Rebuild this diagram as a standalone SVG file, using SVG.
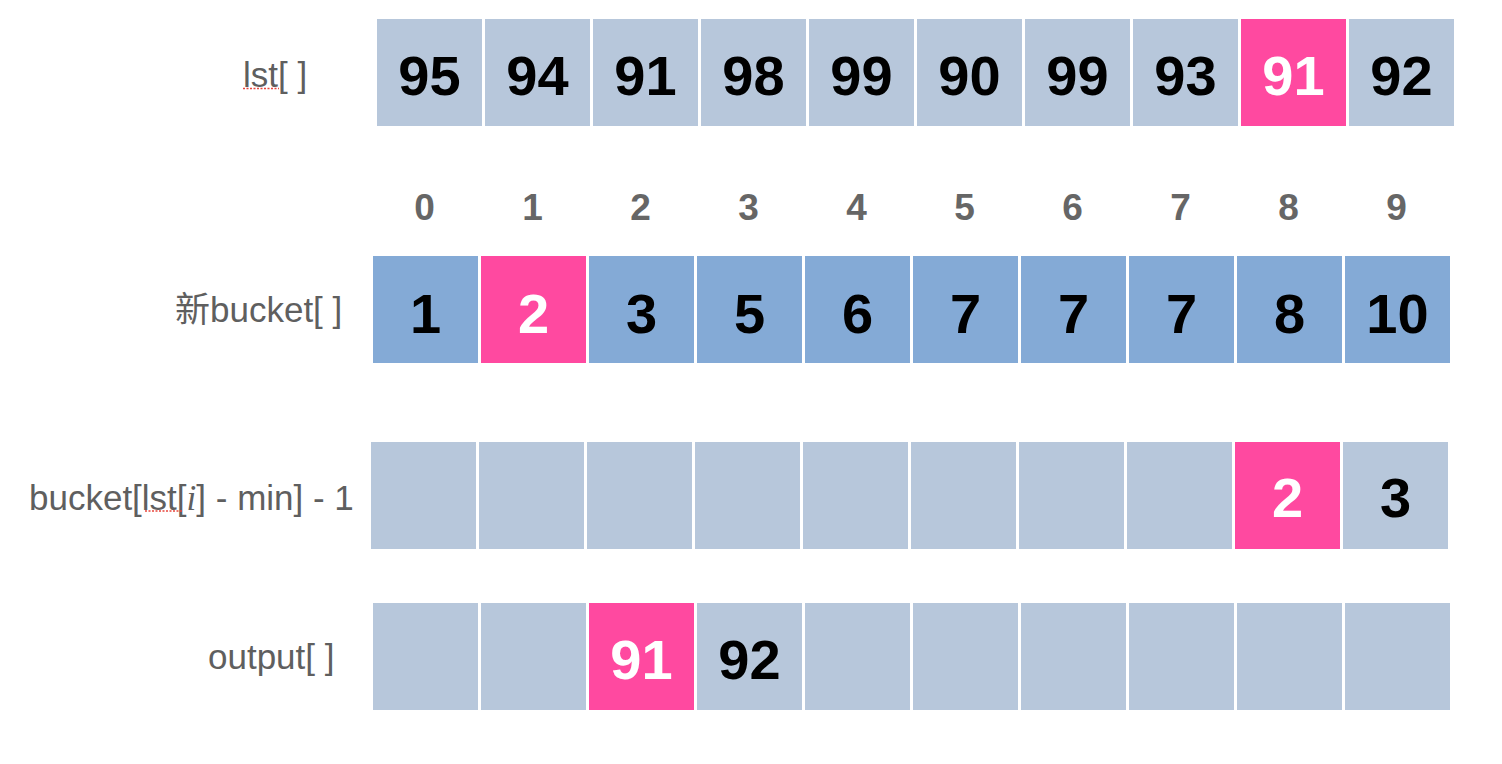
<svg xmlns="http://www.w3.org/2000/svg" width="1502" height="764" viewBox="0 0 1502 764">
<style>
.c{fill:#B7C7DB}
.b{fill:#84AAD6}
.p{fill:#FF49A0}
.v{font-family:"Liberation Sans",Arial,sans-serif;font-weight:bold;font-size:56px;text-anchor:middle;fill:#000}
.w{fill:#fff}
.ix{font-family:"Liberation Sans",Arial,sans-serif;font-weight:bold;font-size:37px;text-anchor:middle;fill:#666}
.lb{font-family:"Liberation Sans",Arial,"Noto Sans CJK SC",sans-serif;font-size:35px;fill:#5f5f5f}
.sq{stroke:#e8453c;stroke-width:1.6;stroke-dasharray:2 1.5;fill:none}
</style>
<rect width="1502" height="764" fill="#fff"/>
<g id="label-lst">
<text class="lb" x="243" y="87">lst[ ]</text>
<line class="sq" x1="243" y1="88.5" x2="279" y2="88.5"/>
</g>
<g id="row-lst">
<rect class="c" x="377" y="19" width="105" height="107"/><text class="v" x="429.5" y="95">95</text>
<rect class="c" x="485" y="19" width="105" height="107"/><text class="v" x="537.5" y="95">94</text>
<rect class="c" x="593" y="19" width="105" height="107"/><text class="v" x="645.5" y="95">91</text>
<rect class="c" x="701" y="19" width="105" height="107"/><text class="v" x="753.5" y="95">98</text>
<rect class="c" x="809" y="19" width="105" height="107"/><text class="v" x="861.5" y="95">99</text>
<rect class="c" x="917" y="19" width="105" height="107"/><text class="v" x="969.5" y="95">90</text>
<rect class="c" x="1025" y="19" width="105" height="107"/><text class="v" x="1077.5" y="95">99</text>
<rect class="c" x="1133" y="19" width="105" height="107"/><text class="v" x="1185.5" y="95">93</text>
<rect class="p" x="1241" y="19" width="105" height="107"/><text class="v w" x="1293.5" y="95">91</text>
<rect class="c" x="1349" y="19" width="105" height="107"/><text class="v" x="1401.5" y="95">92</text>
</g>
<g id="index-labels">
<text class="ix" x="424.5" y="220">0</text>
<text class="ix" x="532.5" y="220">1</text>
<text class="ix" x="640.5" y="220">2</text>
<text class="ix" x="748.5" y="220">3</text>
<text class="ix" x="856.5" y="220">4</text>
<text class="ix" x="964.5" y="220">5</text>
<text class="ix" x="1072.5" y="220">6</text>
<text class="ix" x="1180.5" y="220">7</text>
<text class="ix" x="1288.5" y="220">8</text>
<text class="ix" x="1396.5" y="220">9</text>
</g>
<g id="label-newbucket">
<text class="lb" x="175" y="322">新bucket[ ]</text>
</g>
<g id="row-newbucket">
<rect class="b" x="373" y="256" width="105" height="107"/><text class="v" x="425.5" y="333">1</text>
<rect class="p" x="481" y="256" width="105" height="107"/><text class="v w" x="533.5" y="333">2</text>
<rect class="b" x="589" y="256" width="105" height="107"/><text class="v" x="641.5" y="333">3</text>
<rect class="b" x="697" y="256" width="105" height="107"/><text class="v" x="749.5" y="333">5</text>
<rect class="b" x="805" y="256" width="105" height="107"/><text class="v" x="857.5" y="333">6</text>
<rect class="b" x="913" y="256" width="105" height="107"/><text class="v" x="965.5" y="333">7</text>
<rect class="b" x="1021" y="256" width="105" height="107"/><text class="v" x="1073.5" y="333">7</text>
<rect class="b" x="1129" y="256" width="105" height="107"/><text class="v" x="1181.5" y="333">7</text>
<rect class="b" x="1237" y="256" width="105" height="107"/><text class="v" x="1289.5" y="333">8</text>
<rect class="b" x="1345" y="256" width="105" height="107"/><text class="v" x="1397.5" y="333">10</text>
</g>
<g id="label-bucket-minus">
<text class="lb" x="29" y="510">bucket[lst[<tspan font-family="'Liberation Serif',serif" font-style="italic">i</tspan>] - min] - 1</text>
<line class="sq" x1="145" y1="511" x2="182" y2="511"/>
</g>
<g id="row-bucket-minus">
<rect class="c" x="371" y="442" width="105" height="107"/>
<rect class="c" x="479" y="442" width="105" height="107"/>
<rect class="c" x="587" y="442" width="105" height="107"/>
<rect class="c" x="695" y="442" width="105" height="107"/>
<rect class="c" x="803" y="442" width="105" height="107"/>
<rect class="c" x="911" y="442" width="105" height="107"/>
<rect class="c" x="1019" y="442" width="105" height="107"/>
<rect class="c" x="1127" y="442" width="105" height="107"/>
<rect class="p" x="1235" y="442" width="105" height="107"/><text class="v w" x="1287.5" y="517">2</text>
<rect class="c" x="1343" y="442" width="105" height="107"/><text class="v" x="1395.5" y="517">3</text>
</g>
<g id="label-output">
<text class="lb" x="208" y="669">output[ ]</text>
</g>
<g id="row-output">
<rect class="c" x="373" y="603" width="105" height="107"/>
<rect class="c" x="481" y="603" width="105" height="107"/>
<rect class="p" x="589" y="603" width="105" height="107"/><text class="v w" x="641.5" y="679">91</text>
<rect class="c" x="697" y="603" width="105" height="107"/><text class="v" x="749.5" y="679">92</text>
<rect class="c" x="805" y="603" width="105" height="107"/>
<rect class="c" x="913" y="603" width="105" height="107"/>
<rect class="c" x="1021" y="603" width="105" height="107"/>
<rect class="c" x="1129" y="603" width="105" height="107"/>
<rect class="c" x="1237" y="603" width="105" height="107"/>
<rect class="c" x="1345" y="603" width="105" height="107"/>
</g>
<g id="connectors"></g>
</svg>
